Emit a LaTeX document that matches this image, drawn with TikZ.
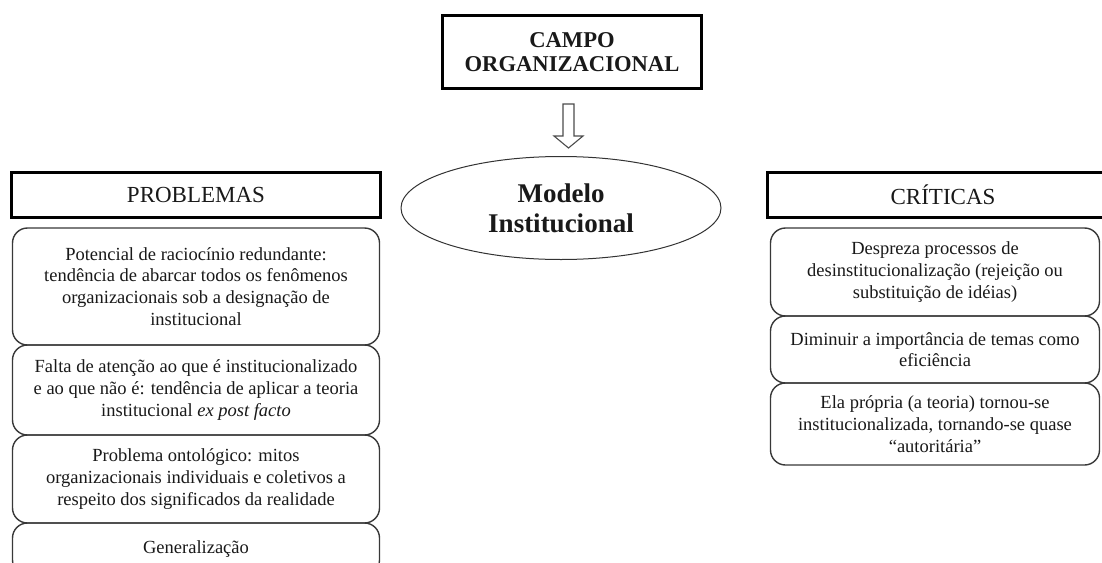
\documentclass[tikz,border=0pt]{standalone}
\usepackage{fontspec}
\setmainfont{Liberation Serif}
\usetikzlibrary{shapes.geometric}
\begin{document}
\begin{tikzpicture}[x=1pt,y=-1pt,
  hdr/.style={draw=black, line width=3pt, minimum height=45pt, inner sep=0pt,
    text=black!90, font=\fontsize{23}{26}\selectfont},
  item/.style={draw=black!78, line width=1.4pt, rounded corners=15pt, align=center,
    inner sep=0pt, text=black!90, font=\fontsize{18.5}{21.7}\selectfont},
  lbox/.style={item, minimum width=367pt},
  rbox/.style={item, minimum width=329pt},
]
\useasboundingbox (0,0) rectangle (1102,562);
\clip (0,0) rectangle (1102,562);
\fill[white] (0,0) rectangle (1102,562);

% top box
\node[draw=black, line width=3pt, minimum width=259pt, minimum height=73pt, inner sep=0pt,
  align=center, text=black!90, font=\bfseries\fontsize{22.6}{24}\selectfont]
  (campo) at (572,52) {CAMPO\\ORGANIZACIONAL};

% hollow arrow
\coordinate (atop) at (568.5,104);
\coordinate (atip) at (568.5,148);
\draw[draw=black!70, line width=1.1pt, line join=miter]
  (atop) ++(-5.5,0) -- ++(11,0) -- ++(0,32) -- ++(9,0) -- (atip)
  -- ++(-14.5,-12) -- ++(9,0) -- cycle;

% ellipse
\node[draw=black!80, ellipse, line width=1pt, minimum width=320pt, minimum height=103pt,
  inner sep=0pt, align=center, text=black!90, font=\bfseries\fontsize{27}{30}\selectfont]
  (modelo) at (561,208) {Modelo\\Institucional};

% headers
\node[hdr, minimum width=369pt] (prob) at (196,195) {PROBLEMAS};
\node[hdr, minimum width=351pt] (crit) at (943,195) {CRÍTICAS};

% left boxes
\node[lbox, minimum height=117pt] (l1) at (196,286.5)
  {Potencial de raciocínio redundante:\\tendência de abarcar todos os fenômenos\\organizacionais sob a designação de\\institucional};
\node[lbox, minimum height=90pt] (l2) at (196,390)
  {Falta de atenção ao que é institucionalizado\\e ao que não é: tendência de aplicar a teoria\\institucional \textit{ex post facto}};
\node[lbox, minimum height=88pt] (l3) at (196,479)
  {Problema ontológico: mitos\\organizacionais individuais e coletivos a\\respeito dos significados da realidade};
\node[lbox, minimum height=52pt] (l4) at (196,549) {Generalização};

% right boxes
\node[rbox, minimum height=88pt] (r1) at (935,272)
  {Despreza processos de\\desinstitucionalização (rejeição ou\\substituição de idéias)};
\node[rbox, minimum height=67pt] (r2) at (935,349.5)
  {Diminuir a importância de temas como\\eficiência};
\node[rbox, minimum height=82pt] (r3) at (935,424)
  {Ela própria (a teoria) tornou-se\\institucionalizada, tornando-se quase\\“autoritária”};
\end{tikzpicture}
\end{document}
